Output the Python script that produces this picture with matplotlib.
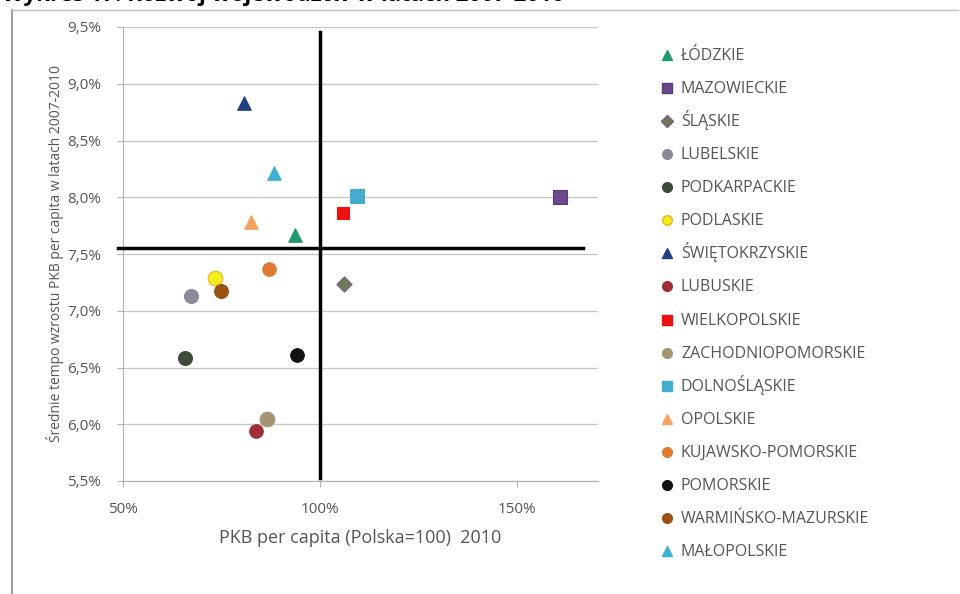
import numpy as np
import matplotlib.pyplot as plt
from matplotlib.lines import Line2D
from matplotlib.ticker import FuncFormatter, MultipleLocator

# ── Data: PKB per capita 2010 (Polska=100) vs average growth 2007-2010 ──
REGIONS = ["ŁÓDZKIE", "MAZOWIECKIE", "ŚLĄSKIE", "LUBELSKIE", "PODKARPACKIE",
           "PODLASKIE", "ŚWIĘTOKRZYSKIE", "LUBUSKIE", "WIELKOPOLSKIE",
           "ZACHODNIOPOMORSKIE", "DOLNOŚLĄSKIE", "OPOLSKIE",
           "KUJAWSKO-POMORSKIE", "POMORSKIE", "WARMIŃSKO-MAZURSKIE", "MAŁOPOLSKIE"]
PKB_PC = [93.7, 160.9, 106.1, 67.3, 65.7, 73.4, 80.7, 83.8, 105.8,
          86.5, 109.4, 82.5, 87.1, 94.2, 74.9, 88.3]
GROWTH = [7.67, 8.00, 7.24, 7.13, 6.58, 7.29, 8.83, 5.94, 7.86,
          6.05, 8.01, 7.78, 7.37, 6.61, 7.17, 8.21]
MARKERS = ["^", "s", "D", "o", "o", "o", "^", "o", "s",
           "o", "s", "^", "o", "o", "o", "^"]
COLORS = ["#1f9a6c", "#6a4a8c", "#6d7a52", "#8a8a98", "#3e4a3a", "#f2ee1c",
          "#1f3f80", "#a02e36", "#ee1010", "#a39472", "#45acd0", "#f7a060",
          "#e07a32", "#111111", "#9a5212", "#3eb0d8"]
EDGES = ["#1f9a6c", "#5a3a7a", "#7a5a90", "#8a8a98", "#3e4a3a", "#f0b020",
         "#1f3f80", "#a02e36", "#ee1010", "#a39472", "#45acd0", "#f7a060",
         "#e07a32", "#111111", "#9a5212", "#3eb0d8"]
SIZES = [95, 90, 60, 100, 100, 110, 95, 95, 80, 110, 100, 95, 95, 95, 100, 95]

MEAN_PKB = 100
MEAN_GROWTH = 7.55

plt.rcParams['font.family'] = ['Open Sans', 'DejaVu Sans']
TXT = '#555555'

fig = plt.figure(figsize=(9.6, 5.94), dpi=100)
ax = fig.add_axes([123 / 960, 1 - 481 / 594, 475 / 960, 454 / 594])

for x, y, m, c, e, s in zip(PKB_PC, GROWTH, MARKERS, COLORS, EDGES, SIZES):
    ax.scatter(x, y, marker=m, s=s, color=c, edgecolors=e, linewidths=0.8, zorder=4)

# quadrant lines
ax.plot([MEAN_PKB, MEAN_PKB], [5.53, 9.46], color='black', lw=2.5, zorder=3, clip_on=False)
ax.plot([48.7, 166.8], [MEAN_GROWTH, MEAN_GROWTH], color='black', lw=2.5, zorder=3, clip_on=False)

ax.set_xlim(50, 170.6)
ax.set_ylim(5.5, 9.5)
ax.xaxis.set_major_locator(MultipleLocator(50))
ax.yaxis.set_major_locator(MultipleLocator(0.5))
ax.xaxis.set_major_formatter(FuncFormatter(lambda v, p: f"{v:.0f}%"))
ax.yaxis.set_major_formatter(FuncFormatter(lambda v, p: f"{v:.1f}%".replace('.', ',')))
ax.grid(axis='y', color='#c8c8c8', lw=1)
ax.set_axisbelow(True)
for side in ['top', 'right']:
    ax.spines[side].set_visible(False)
for side in ['left', 'bottom']:
    ax.spines[side].set_color('#b0b0b0')
ax.tick_params(colors='#b0b0b0', labelcolor=TXT, labelsize=11, length=4)
ax.tick_params(axis='y', pad=12)
ax.tick_params(axis='x', pad=11)
ax.set_xlabel("PKB per capita (Polska=100)  2010", color=TXT, fontsize=13, labelpad=9)
ax.set_ylabel("Średnie tempo wzrostu PKB per capita w latach 2007-2010",
              color=TXT, fontsize=10, labelpad=2)

# legend: evenly spaced rows, like the original
row0, step = 55, 33.07
for i, (name, m, c, e) in enumerate(zip(REGIONS, MARKERS, COLORS, EDGES)):
    yf = 1 - (row0 + i * step) / 594
    fig.add_artist(Line2D([667 / 960], [yf], marker=m, ls='none', color=c,
                          markeredgecolor=e, markersize=7 if m != 'D' else 6))
    fig.text(681 / 960, yf - 5 / 594, name, fontsize=11.5, color=TXT,
             va='baseline', ha='left')

# outer frame and cropped title
fig.add_artist(Line2D([12 / 960, 12 / 960], [0, 1 - 10 / 594], color='#a0a0a0', lw=1.5))
fig.add_artist(Line2D([12 / 960, 958 / 960], [1 - 10 / 594, 1 - 10 / 594], color='#c0c0c0', lw=1))
fig.text(2 / 960, 1 + 4 / 594, "Wykres 17. Rozwój województw w latach 2007-2010",
         fontsize=16, fontweight='bold', va='center', ha='left', color='black')

fig.savefig('out.png', dpi=100)
